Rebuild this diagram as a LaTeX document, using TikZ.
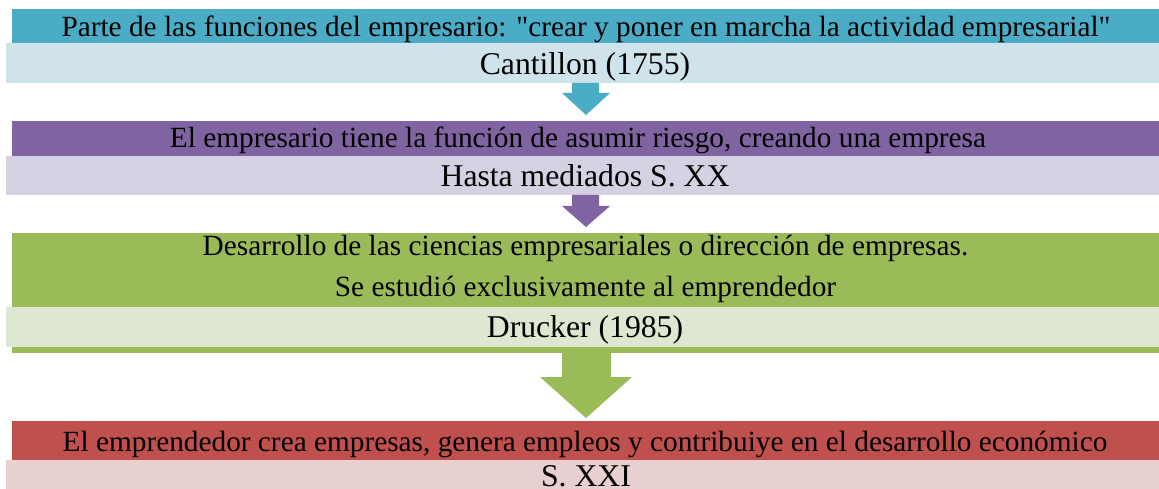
\documentclass[tikz,border=0pt]{standalone}
\usepackage{fontspec}
\setmainfont{Liberation Serif}
\usepackage{tikz}
\definecolor{azulD}{HTML}{4BACC6}
\definecolor{azulL}{HTML}{D0E3EA}
\definecolor{moradoD}{HTML}{8064A2}
\definecolor{moradoL}{HTML}{D6D1E2}
\definecolor{verdeD}{HTML}{9BBB59}
\definecolor{verdeL}{HTML}{DEE7D1}
\definecolor{rojoD}{HTML}{C0504D}
\definecolor{rojoL}{HTML}{E8D0D0}
\tikzset{
	toptext/.style={anchor=base, inner sep=0pt, font=\fontsize{29.3}{34}\selectfont},
	subtext/.style={anchor=base, inner sep=0pt, font=\fontsize{31.7}{38}\selectfont},
}
\begin{document}
\begin{tikzpicture}[x=1pt,y=-1pt]
		\useasboundingbox (0,0) rectangle (1159,489);
		% bands
		\fill [azulD] (12,9) rectangle (1159,43);
		\fill [azulL] (6,43) rectangle (1159,83);
		\fill [moradoD] (12,121) rectangle (1159,156);
		\fill [moradoL] (6,156) rectangle (1159,195);
		\fill [verdeD] (12,233) rectangle (1159,353);
		\fill [verdeL] (6,307) rectangle (1159,347);
		\fill [rojoD] (12,421) rectangle (1159,460);
		\fill [rojoL] (6,460) rectangle (1159,495);
		% arrows
		\fill [azulD] (572,83) -- (599,83) -- (599,93) -- (610,93) 
			-- (586,115) -- (562,93) -- (572,93) -- cycle;
		\fill [moradoD] (572,195) -- (599,195) -- (599,206) -- (610,206) 
			-- (586,227) -- (562,206) -- (572,206) -- cycle;
		\fill [verdeD] (562,353) -- (611,353) -- (611,377) -- (632,377) 
			-- (586,418) -- (540,377) -- (562,377) -- cycle;
		% texts
		\node [toptext] (T1) at (586,37) 
			{Parte de las funciones del empresario: \textquotedbl crear y poner en marcha la actividad empresarial\textquotedbl};
		\node [subtext] (S1) at (585,75) 
			{Cantillon (1755)};
		\node [toptext] (T2) at (578,148) 
			{El empresario tiene la función de asumir riesgo, creando una empresa};
		\node [subtext] (S2) at (585,187) 
			{Hasta mediados S. XX};
		\node [toptext] (T3a) at (585.5,255) 
			{Desarrollo de las ciencias empresariales o dirección de empresas.};
		\node [toptext] (T3b) at (585.5,296) 
			{Se estudió exclusivamente al emprendedor};
		\node [subtext] (S3) at (585,337) 
			{Drucker (1985)};
		\node [toptext] (T4) at (585,451) 
			{El emprendedor crea empresas, genera empleos y contribuiye en el desarrollo económico};
		\node [subtext] (S4) at (586,486) 
			{S. XXI};
\end{tikzpicture}
\end{document}
